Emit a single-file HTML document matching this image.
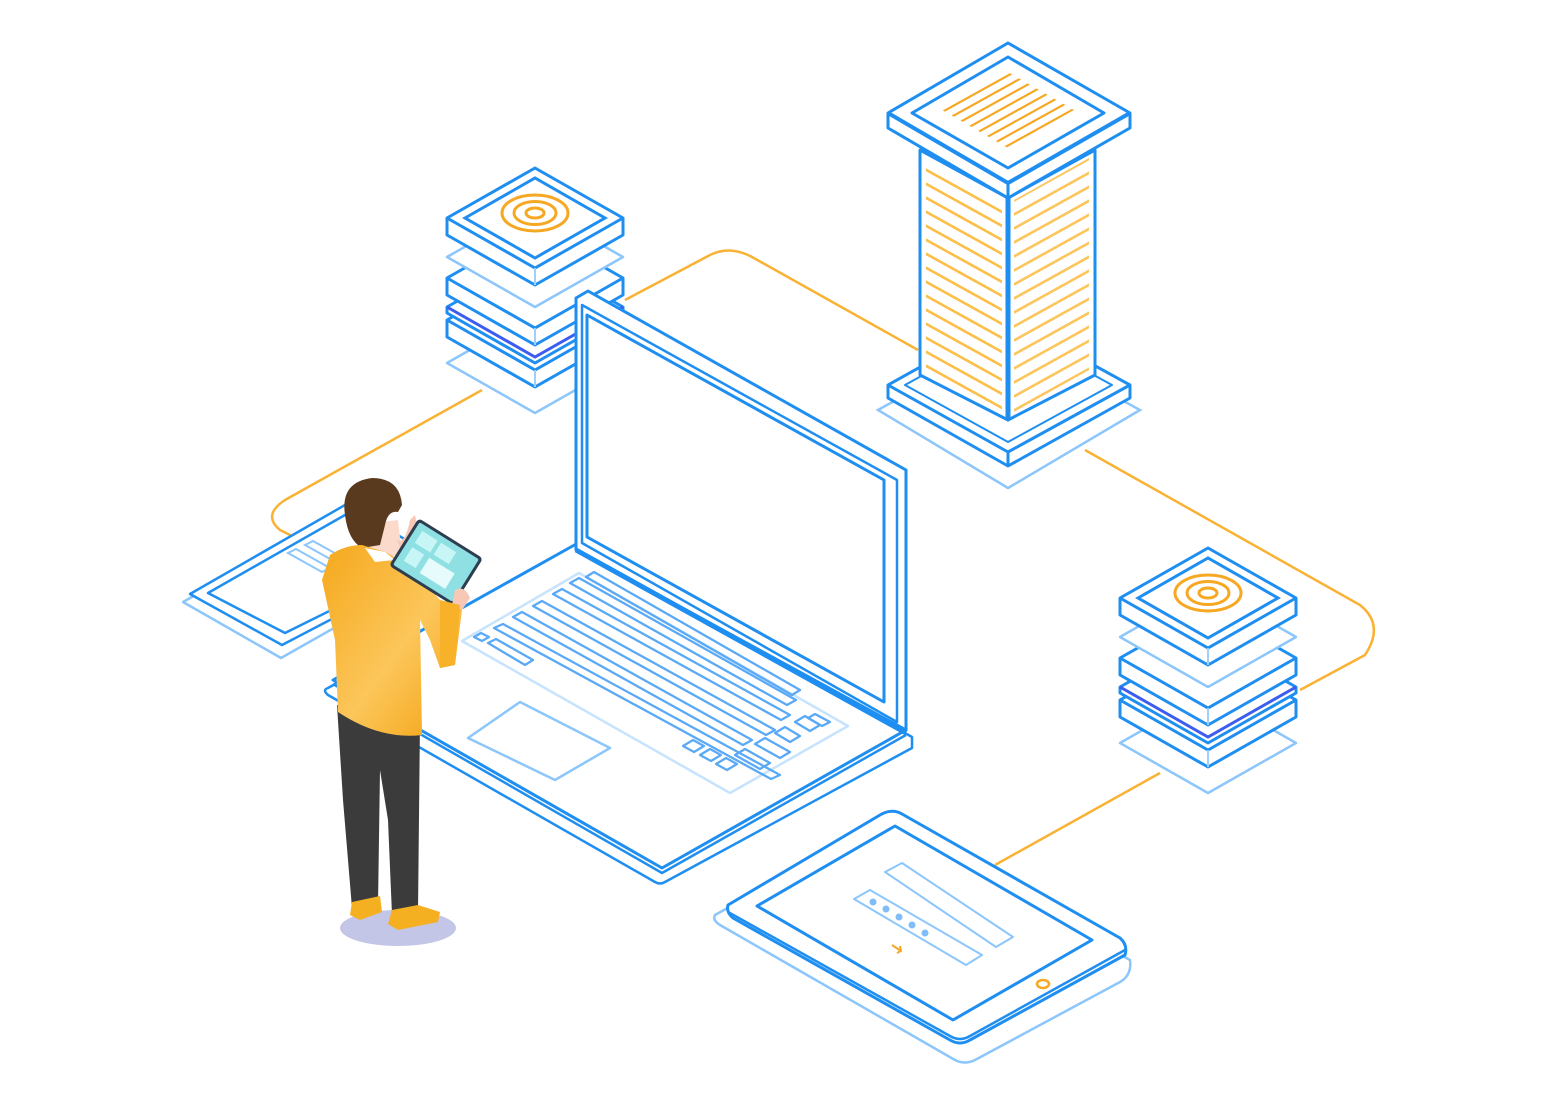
<!DOCTYPE html>
<html><head><meta charset="utf-8"><style>html,body{margin:0;padding:0;background:#fff}svg{display:block}</style></head><body>
<svg width="1560" height="1106" viewBox="0 0 1560 1106" xmlns="http://www.w3.org/2000/svg">
<defs>
<g id="slab"><polygon points="-88,0 0,-50 88,0 88,17 0,67 -88,17" fill="#fff" stroke="#1f8ef1" stroke-width="3" stroke-linejoin="round"/><polyline points="-88,0 0,50 88,0" fill="none" stroke="#1f8ef1" stroke-width="3"/><line x1="0" y1="50" x2="0" y2="67" stroke="#9fd0fb" stroke-width="2"/></g>
<g id="thin"><polygon points="-88,0 0,-50 88,0 88,6 0,56 -88,6" fill="#fff" stroke="#1f8ef1" stroke-width="3" stroke-linejoin="round"/><polyline points="-88,0 0,50 88,0" fill="none" stroke="#3d5cf0" stroke-width="3"/></g>
<polygon id="lite" points="-88,0 0,-50 88,0 0,50" fill="#fff" stroke="#8cc6fb" stroke-width="2.5" stroke-linejoin="round"/>
<g id="stack">
<use href="#lite" y="145"/>
<use href="#slab" y="102"/>
<use href="#thin" y="89"/>
<use href="#slab" y="60"/>
<use href="#lite" y="39"/>
<use href="#slab" y="0"/>
<polygon points="-70,0 0,-40 70,0 0,40" fill="none" stroke="#1f8ef1" stroke-width="3"/>
<ellipse cx="0" cy="-5" rx="33" ry="18" fill="none" stroke="#f7a823" stroke-width="3"/>
<ellipse cx="0" cy="-5" rx="21" ry="11.5" fill="none" stroke="#f7a823" stroke-width="3"/>
<ellipse cx="0" cy="-5" rx="9" ry="5" fill="none" stroke="#f7a823" stroke-width="3"/>
</g>
<pattern id="pl" width="12" height="14" patternUnits="userSpaceOnUse" patternTransform="skewY(29)"><rect y="5" width="12" height="3" fill="#fbbf4a"/></pattern>
<pattern id="pr" width="12" height="14" patternUnits="userSpaceOnUse" patternTransform="skewY(-29)"><rect y="5" width="12" height="3" fill="#fcc65c"/></pattern>
<pattern id="plid" width="12" height="10" patternUnits="userSpaceOnUse" patternTransform="skewY(-29)"><rect y="3" width="12" height="2.5" fill="#f7a823"/></pattern>
<linearGradient id="yel" x1="0" y1="0" x2="1" y2="1"><stop offset="0" stop-color="#f5a81c"/><stop offset=".55" stop-color="#fcc65a"/><stop offset="1" stop-color="#f3a10f"/></linearGradient>
</defs>

<g fill="none" stroke="#f9b233" stroke-width="2.5">
<path d="M482,390 L285,500 Q262,515 280,530 L300,540"/>
<path d="M625,300 L710,255 Q730,245 752,257 L918,350"/>
<path d="M1085,450 L1360,605 Q1385,625 1365,655 L1300,690"/>
<path d="M1160,773 L995,865"/>
</g>

<!-- left tablet -->
<g fill="#fff" stroke-linejoin="round" stroke-width="2.5">
<polygon points="183,602 342,512 440,568 281,658" stroke="#8cc6fb"/>
<polygon points="190,594 345,505 443,561 282,645" stroke="#1f8ef1"/>
<polygon points="208,593 345,515 428,562 285,633" stroke="#1f8ef1"/>
</g>
<g fill="none" stroke="#8cc6fb" stroke-width="2"><polygon points="288,553 296,549 330,568 322,572"/><polygon points="305,545 313,541 340,556 332,560"/></g>

<!-- tower -->
<polygon points="878,410 1008,338 1140,410 1008,488" fill="#fff" stroke="#8cc6fb" stroke-width="2.5"/>
<g fill="#fff" stroke="#1f8ef1" stroke-width="3" stroke-linejoin="round">
<polygon points="888,385 1008,318 1130,385 1130,398 1008,466 888,398"/>
<polyline points="888,385 1008,452 1130,385" fill="none"/>
<line x1="1008" y1="452" x2="1008" y2="466"/>
<polygon points="905,385 1008,328 1112,385 1008,442" fill="none" stroke-width="2"/>
<polygon points="920,150 1008,198 1008,420 920,375"/>
<polygon points="1008,198 1095,150 1095,375 1008,420"/>
</g>
<polygon points="926,158 1002,200 1002,412 926,370" fill="url(#pl)"/>
<polygon points="1014,200 1089,158 1089,370 1014,412" fill="url(#pr)"/>
<g fill="#fff" stroke="#1f8ef1" stroke-width="3" stroke-linejoin="round">
<line x1="1008" y1="198" x2="1008" y2="420" stroke-width="5"/>
<polygon points="888,113 1008,43 1130,113 1130,128 1008,198 888,128"/>
<polyline points="888,113 1008,183 1130,113" fill="none" stroke-width="4"/>
<line x1="1008" y1="183" x2="1008" y2="198"/>
<polygon points="912,113 1008,57 1104,113 1008,168" fill="#fff"/>
</g>
<polygon points="942,110 1008,72 1074,110 1008,148" fill="url(#plid)"/>

<use href="#stack" x="535" y="218"/>
<use href="#stack" x="1208" y="598"/>

<!-- bottom tablet -->
<g fill="#fff" stroke-linejoin="round">
<path d="M715,915 L885,820 L1130,960 Q1132,975 1120,982 L975,1060 Q965,1065 955,1060 L720,925 Q712,920 715,915Z" stroke="#8cc6fb" stroke-width="2.5"/>
<path d="M728,905 L880,815 Q892,808 902,814 L1120,938 Q1128,945 1125,955 L970,1040 Q960,1046 950,1040 L733,918 Q726,912 728,905Z" stroke="#1f8ef1" stroke-width="3"/>
<path d="M728,912 L950,1036 Q960,1042 970,1036 L1125,950" fill="none" stroke="#1f8ef1" stroke-width="2.5"/>
<polygon points="757,906 895,826 1092,940 953,1020" fill="none" stroke="#1f8ef1" stroke-width="3"/>
<polygon points="885,872 902,863 1013,937 996,947" fill="none" stroke="#8cc6fb" stroke-width="2"/>
<polygon points="854,899 870,890 982,955 966,965" fill="none" stroke="#8cc6fb" stroke-width="2"/>
</g>
<g fill="#7fbcf8"><circle cx="873" cy="902" r="3.5"/><circle cx="886" cy="909" r="3.5"/><circle cx="899" cy="917" r="3.5"/><circle cx="912" cy="925" r="3.5"/><circle cx="925" cy="933" r="3.5"/></g>
<path d="M892,945 L901,951 M897,953 L901,951 L900,946" stroke="#f7a823" stroke-width="2" fill="none"/>
<ellipse cx="1043" cy="984" rx="6" ry="4" fill="none" stroke="#f7a823" stroke-width="2.5"/>

<!-- laptop -->
<g fill="#fff" stroke="#1f8ef1" stroke-linejoin="round">
<path d="M328,688 L578,548 L912,737 L912,748 L665,882 Q660,885 655,882 L328,695 Q322,690 328,688Z" stroke-width="2.5"/>
<path d="M333,680 L578,543 L906,730 L662,868 Z" stroke-width="3"/>
<polyline points="333,684 662,873 906,735" fill="none" stroke-width="2.5"/>
<polygon points="576,298 588,291 906,470 906,730 576,550" stroke-width="3"/>
<polygon points="582,305 897,480 897,722 582,543" fill="none" stroke-width="2.5"/>
<polygon points="587,315 884,480 884,702 587,537" fill="none" stroke-width="3"/>
<line x1="576" y1="550" x2="906" y2="733" stroke-width="5"/>
</g>
<g fill="none" stroke-linejoin="round">
<polygon points="462,641 579,573 848,726 730,793" stroke="#c7e3fd" stroke-width="2.5"/>
<polygon points="468,738 520,702 610,748 555,780" stroke="#8cc6fb" stroke-width="2.5"/>
<g stroke="#5aa9f6" stroke-width="2.3">
<polygon points="474,637 481,633 489,637 482,641"/>
<polygon points="488,643 496,639 533,660 525,665"/>
<polygon points="494,628 503,624 780,775 771,779"/>
<polygon points="513,617 522,612 752,740 743,745"/>
<polygon points="533,606 542,601 775,730 766,735"/>
<polygon points="553,594 562,589 790,715 781,720"/>
<polygon points="570,583 579,578 796,700 787,705"/>
<polygon points="586,577 594,572 800,690 792,695"/>
<polygon points="683,746 693,740 704,746 694,752"/>
<polygon points="700,755 710,749 721,755 711,761"/>
<polygon points="716,764 726,758 737,764 727,770"/>
<polygon points="735,755 745,749 770,763 760,769"/>
<polygon points="755,744 765,738 790,752 780,758"/>
<polygon points="775,733 785,727 800,736 790,742"/>
<polygon points="795,722 805,716 820,725 810,731"/>
<polygon points="808,718 815,714 830,722 822,726"/>
</g>
</g>

<!-- person -->
<ellipse cx="398" cy="928" rx="58" ry="18" fill="#c3c6e6"/>
<path d="M337,705 L420,720 L418,912 L392,915 L388,820 L380,770 L378,905 L352,908 L343,800 Z" fill="#3b3b3b"/>
<path d="M352,902 L380,896 L382,912 L360,920 L350,915Z" fill="#f5b021"/>
<path d="M392,910 L418,905 L440,912 L438,922 L398,930 L388,924Z" fill="#f5b021"/>
<path d="M358,525 L398,520 L402,555 L360,560Z" fill="#fbd9cb"/>
<path d="M397,540 Q405,545 410,520 L415,515 L420,540 L405,560Z" fill="#f6c8b5"/>
<path d="M345,515 Q340,482 372,478 Q400,478 402,505 L398,512 Q388,510 385,525 L380,545 L362,548 Q348,540 345,515Z" fill="#5a3a1e"/>
<path d="M330,555 Q345,545 362,545 L385,552 L400,560 L418,575 L440,600 L450,606 L457,600 L462,610 L455,665 L440,668 L430,640 L420,620 L422,735 Q380,740 338,712 L335,640 L322,580 Z" fill="url(#yel)"/>
<path d="M365,548 L385,552 L395,560 L375,562Z" fill="#fff"/>
<g transform="translate(436,562) rotate(32)">
<rect x="-38" y="-28" width="76" height="56" rx="4" fill="#2c3e50"/>
<rect x="-35" y="-25" width="70" height="50" rx="2" fill="#8fe0e3"/>
<rect x="-28" y="-19" width="18" height="14" fill="#c8f5f5"/><rect x="-6" y="-19" width="18" height="14" fill="#c8f5f5"/><rect x="-28" y="0" width="14" height="16" fill="#c8f5f5"/><rect x="-8" y="0" width="30" height="18" fill="#e6fbfb"/>
</g>
<path d="M455,590 Q465,585 470,598 L462,610 L452,605Z" fill="#f6c8b5"/>
<path d="M440,600 L460,605 L455,665 L440,668 Z" fill="#f7b22a"/>
</svg>
</body></html>
